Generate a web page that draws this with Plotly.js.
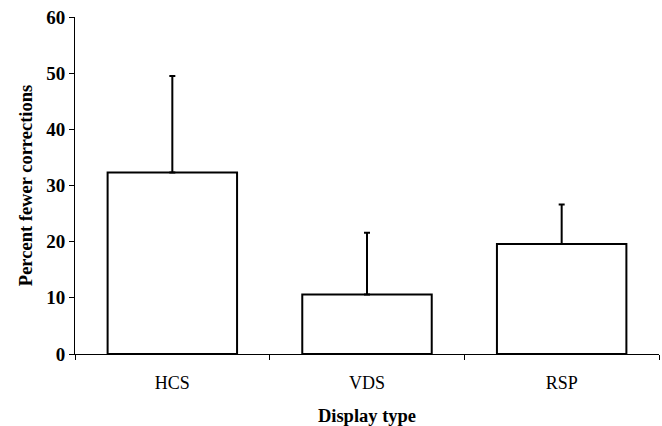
<!DOCTYPE html>
<html>
<head>
<meta charset="utf-8">
<script src="https://cdn.plot.ly/plotly-3.0.1.min.js"></script>
<style>html,body{margin:0;padding:0;background:#fff;}#chart{width:662px;height:426px;}</style>
</head>
<body>
<div id="chart"></div>
<script>
var categories = ["HCS", "VDS", "RSP"];
var values = [32.3, 10.6, 19.6];
var errorsUp = [17.2, 11.0, 7.0];
var errorsDown = [0, 0, 0];
var yTicks = [0, 10, 20, 30, 40, 50, 60];

var trace = {
  type: "bar",
  x: categories,
  y: values,
  marker: {color: "#ffffff", line: {color: "#000000", width: 2}},
  error_y: {type: "data", symmetric: false, array: errorsUp, arrayminus: errorsDown,
            color: "#000000", thickness: 2, width: 3},
  hoverinfo: "none"
};

var layout = {
  width: 662, height: 426,
  margin: {l: 75, r: 3, t: 17, b: 72},
  paper_bgcolor: "#ffffff", plot_bgcolor: "#ffffff",
  showlegend: false,
  bargap: 0.335,
  font: {family: "Liberation Serif, Times New Roman, serif", color: "#000000"},
  xaxis: {
    showline: true, linecolor: "#000000", linewidth: 1,
    ticks: "outside", tickson: "boundaries", ticklen: 5, tickcolor: "#000000",
    showgrid: false, zeroline: false,
    ticklabelstandoff: 12,
    tickfont: {size: 18, family: "Liberation Serif, serif"},
    title: {text: "<b>Display type</b>", font: {size: 18.5}, standoff: 17}
  },
  yaxis: {
    range: [0, 60], tickvals: yTicks,
    ticktext: yTicks.map(function(v){return "<b>" + v + "</b>";}),
    showline: true, linecolor: "#000000", linewidth: 1,
    ticks: "outside", ticklen: 5, tickcolor: "#000000",
    showgrid: false, zeroline: false,
    tickfont: {size: 19, family: "Liberation Serif, serif"},
    title: {text: "<b>Percent fewer corrections</b>", font: {size: 18.5}, standoff: 8}
  }
};

Plotly.newPlot("chart", [trace], layout, {displayModeBar: false, staticPlot: true});
</script>
</body>
</html>
